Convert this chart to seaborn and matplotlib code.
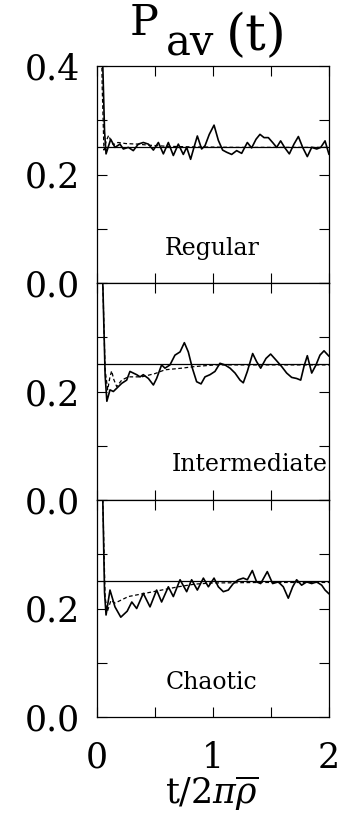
import matplotlib
matplotlib.use("Agg")
import matplotlib.pyplot as plt
import seaborn as sns

sns.set_style("ticks")
plt.rcParams['font.family'] = ['DejaVu Serif']
plt.rcParams['mathtext.fontset'] = 'dejavuserif'
plt.rcParams['text.color'] = 'k'

# ---- data ----
limit = 0.25  # long-time limit drawn as a thin line

t_reg = [0.0, 0.035, 0.05, 0.065, 0.078, 0.118, 0.155, 0.198, 0.227, 0.270, 0.313, 0.356, 0.399, 0.443,
         0.486, 0.529, 0.572, 0.615, 0.658, 0.701, 0.744, 0.773, 0.807, 0.836, 0.865, 0.902, 0.931, 0.968,
         1.009, 1.046, 1.083, 1.118, 1.161, 1.204, 1.247, 1.296, 1.333, 1.371, 1.405, 1.440, 1.477, 1.514,
         1.549, 1.583, 1.620, 1.658, 1.698, 1.736, 1.773, 1.813, 1.851, 1.894, 1.929, 1.966, 2.0]
p_reg = [1.0, 0.6, 0.40, 0.28, 0.238, 0.265, 0.250, 0.256, 0.247, 0.250, 0.244, 0.256, 0.259, 0.256,
         0.245, 0.259, 0.238, 0.259, 0.235, 0.256, 0.237, 0.250, 0.228, 0.250, 0.271, 0.247, 0.253, 0.274,
         0.291, 0.263, 0.245, 0.241, 0.237, 0.244, 0.239, 0.259, 0.249, 0.265, 0.274, 0.268, 0.268, 0.259,
         0.250, 0.262, 0.249, 0.238, 0.256, 0.270, 0.250, 0.233, 0.250, 0.247, 0.250, 0.262, 0.237]
t_reg_avg = [0.0, 0.03, 0.045, 0.06, 0.08, 0.10, 0.12, 0.14, 0.18, 0.25, 0.35, 0.45, 0.6, 0.8, 1.2, 1.6, 2.0]
p_reg_avg = [1.0, 0.55, 0.36, 0.245, 0.262, 0.272, 0.262, 0.255, 0.259, 0.257, 0.256, 0.254, 0.252,
             0.251, 0.250, 0.250, 0.250]

t_int = [0.0, 0.035, 0.05, 0.07, 0.085, 0.112, 0.141, 0.170, 0.213, 0.256, 0.284, 0.313, 0.342, 0.371,
         0.399, 0.443, 0.486, 0.514, 0.557, 0.586, 0.629, 0.672, 0.716, 0.753, 0.787, 0.822, 0.859, 0.897,
         0.931, 0.974, 1.017, 1.060, 1.103, 1.147, 1.190, 1.233, 1.261, 1.296, 1.342, 1.376, 1.411, 1.457,
         1.497, 1.543, 1.592, 1.635, 1.678, 1.721, 1.756, 1.784, 1.813, 1.851, 1.888, 1.922, 1.957, 2.0]
p_int = [1.0, 0.6, 0.40, 0.23, 0.182, 0.203, 0.200, 0.206, 0.215, 0.221, 0.237, 0.234, 0.231, 0.227,
         0.231, 0.224, 0.212, 0.224, 0.249, 0.243, 0.249, 0.267, 0.273, 0.290, 0.273, 0.243, 0.218, 0.214,
         0.227, 0.231, 0.237, 0.252, 0.249, 0.243, 0.234, 0.221, 0.216, 0.237, 0.270, 0.255, 0.243, 0.261,
         0.269, 0.258, 0.246, 0.234, 0.226, 0.224, 0.221, 0.246, 0.266, 0.234, 0.249, 0.267, 0.275, 0.265]
t_int_avg = [0.0, 0.035, 0.05, 0.07, 0.092, 0.11, 0.126, 0.145, 0.170, 0.213, 0.270, 0.385, 0.5, 0.586,
             0.73, 0.845, 1.017, 1.4, 2.0]
p_int_avg = [1.0, 0.6, 0.40, 0.24, 0.203, 0.225, 0.238, 0.222, 0.209, 0.221, 0.227, 0.227, 0.233, 0.240,
             0.243, 0.246, 0.249, 0.249, 0.249]

t_cha = [0.0, 0.035, 0.05, 0.065, 0.078, 0.112, 0.155, 0.205, 0.26, 0.30, 0.342, 0.399, 0.457, 0.514,
         0.557, 0.615, 0.658, 0.716, 0.773, 0.816, 0.865, 0.917, 0.960, 1.009, 1.046, 1.089, 1.132, 1.175,
         1.218, 1.261, 1.296, 1.339, 1.376, 1.411, 1.468, 1.514, 1.563, 1.606, 1.649, 1.687, 1.721, 1.764,
         1.807, 1.851, 1.894, 1.937, 1.966, 2.0]
p_cha = [1.0, 0.6, 0.40, 0.23, 0.188, 0.234, 0.203, 0.184, 0.195, 0.212, 0.200, 0.228, 0.203, 0.234,
         0.212, 0.240, 0.222, 0.253, 0.231, 0.253, 0.234, 0.256, 0.240, 0.256, 0.240, 0.231, 0.234, 0.246,
         0.253, 0.256, 0.253, 0.270, 0.249, 0.246, 0.268, 0.246, 0.249, 0.240, 0.219, 0.240, 0.253, 0.243,
         0.249, 0.246, 0.249, 0.243, 0.234, 0.227]
t_cha_avg = [0.0, 0.035, 0.05, 0.07, 0.09, 0.12, 0.155, 0.213, 0.27, 0.414, 0.557, 0.70, 0.845, 0.99, 1.4, 2.0]
p_cha_avg = [1.0, 0.6, 0.40, 0.22, 0.195, 0.215, 0.21, 0.216, 0.222, 0.228, 0.234, 0.240, 0.245, 0.247,
             0.248, 0.248]

panels = [("Regular", t_reg, p_reg, t_reg_avg, p_reg_avg),
          ("Intermediate", t_int, p_int, t_int_avg, p_int_avg),
          ("Chaotic", t_cha, p_cha, t_cha_avg, p_cha_avg)]

fig = plt.figure(figsize=(3.4, 8.17), dpi=100)
left, width, height = 97/340, 232/340, 217/817
bottoms = [1 - 283/817, 1 - 500/817, 1 - 717/817]

for i, (name, t, p, ta, pa) in enumerate(panels):
    ax = fig.add_axes([left, bottoms[i], width, height])
    sns.lineplot(x=t, y=p, ax=ax, color='k', lw=1.2, estimator=None)
    sns.lineplot(x=ta, y=pa, ax=ax, color='k', lw=0.9, estimator=None, linestyle=(0, (3, 2)))
    ax.axhline(limit, color='k', lw=0.9)
    ax.set_xlim(0, 2)
    ax.set_ylim(0, 0.4)
    ax.set_xticks([0, 0.5, 1, 1.5, 2])
    ax.set_yticks([0, 0.1, 0.2, 0.3, 0.4])
    ax.set_yticklabels(['0.0', '', '0.2', '', '0.4' if i == 0 else ''])
    if i == 2:
        ax.set_xticklabels(['0', '', '1', '', '2'])
    else:
        ax.set_xticklabels([])
    ax.tick_params(direction='in', top=True, right=True, length=7, width=0.8,
                   labelsize=25, colors='k')
    ax.tick_params(axis='y', pad=12)
    ax.tick_params(axis='x', pad=17)
    for s in ax.spines.values():
        s.set_linewidth(0.9)
        s.set_color('k')
    if name == "Intermediate":
        ax.text(1.985, 0.065, name, ha='right', va='center', fontsize=17)
    else:
        ax.text(0.99, 0.064, name, ha='center', va='center', fontsize=17)

# title P_av(t), pieces placed like the original lettering
fig.text(130/340, 1 - 35/817, "P", ha='left', va='baseline', fontsize=31)
fig.text(166/340, 1 - 55/817, "av", ha='left', va='baseline', fontsize=30)
fig.text(226/340, 1 - 50/817, "(t)", ha='left', va='baseline', fontsize=37)

fig.text(212/340, 1 - 793/817, r'$\mathrm{t}/2\pi\overline{\rho}$', ha='center', va='center', fontsize=25)

fig.savefig("out.png", dpi=100)
